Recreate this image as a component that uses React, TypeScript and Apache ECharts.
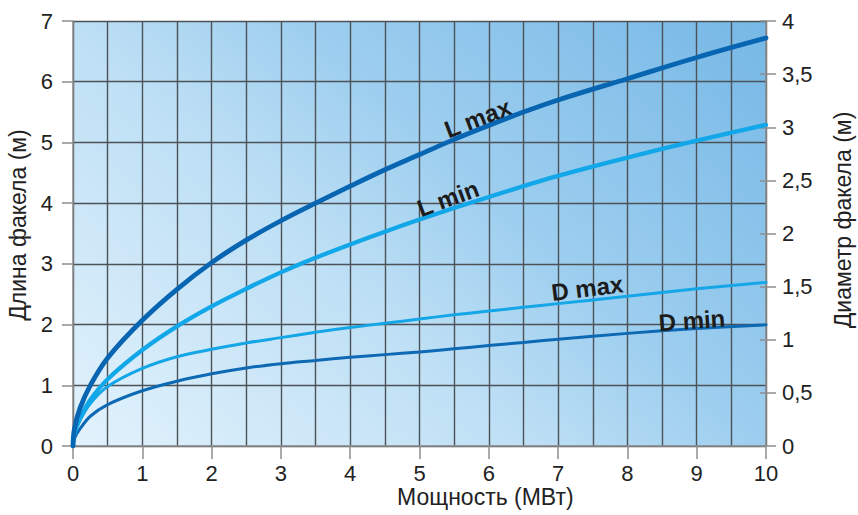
import React, { useEffect, useRef } from 'react';
import * as echarts from 'echarts';

// Power, MW (x axis)
const powerMW = [0, 0.02, 0.1, 0.25, 0.5, 1, 1.5, 2, 2.5, 3, 3.5, 4, 4.5, 5, 5.5, 6, 6.5, 7, 8, 9, 10];
// Flame length, m (left axis)
const lengthMax = [0, 0.28, 0.62, 1.0, 1.45, 2.07, 2.58, 3.02, 3.39, 3.71, 4.0, 4.28, 4.55, 4.8, 5.05, 5.28, 5.5, 5.7, 6.05, 6.4, 6.72];
const lengthMin = [0, 0.2, 0.45, 0.76, 1.1, 1.58, 1.97, 2.3, 2.59, 2.86, 3.1, 3.32, 3.53, 3.73, 3.92, 4.1, 4.28, 4.45, 4.75, 5.03, 5.29];
// Flame diameter, m (right axis)
const diameterMax = [0, 0.11, 0.24, 0.4, 0.56, 0.73, 0.84, 0.91, 0.97, 1.02, 1.07, 1.115, 1.155, 1.195, 1.235, 1.27, 1.305, 1.34, 1.41, 1.48, 1.54];
const diameterMin = [0, 0.07, 0.16, 0.28, 0.39, 0.52, 0.61, 0.68, 0.735, 0.775, 0.805, 0.835, 0.86, 0.885, 0.915, 0.945, 0.975, 1.005, 1.06, 1.105, 1.14];

const xTitle = 'Мощность (МВт)';
const leftTitle = 'Длина факела (м)';
const rightTitle = 'Диаметр факела (м)';

const FONT = '"Liberation Sans", Arial, Helvetica, sans-serif';
const GRID_LINE = { color: '#4d5257', width: 1.4 };
const AXIS_GRAY = { color: '#8e8e8e', width: 1.5 };
const TICK_FONT = 22;
const TITLE_FONT = 23;

const pairs = (ys: number[]) => powerMW.map((x, i) => [x, ys[i]]);

export default function App() {
  const ref = useRef<HTMLDivElement>(null);
  useEffect(() => {
    if (!ref.current) return;
    const chart = echarts.init(ref.current, undefined, { renderer: 'svg' });
    const bg = new echarts.graphic.LinearGradient(0, 1, 1.154, 0.231, [
      { offset: 0, color: '#e2f2fc' },
      { offset: 0.4, color: '#bddff5' },
      { offset: 0.6, color: '#9dceef' },
      { offset: 1, color: '#76b8e6' },
    ]);
    const lineSeries = (name: string, ys: number[], color: string, width: number, yAxisIndex: number) => ({
      name,
      type: 'line',
      yAxisIndex,
      data: pairs(ys),
      smooth: 0.35,
      showSymbol: false,
      symbol: 'none',
      lineStyle: { color, width, cap: 'round' },
      z: 5,
    });
    chart.setOption({
      animation: false,
      grid: {
        left: 73, right: 92, top: 21, bottom: 69,
        show: true, borderWidth: 0, backgroundColor: bg,
      },
      xAxis: {
        type: 'value', min: 0, max: 10, interval: 1,
        axisLine: { show: true, lineStyle: AXIS_GRAY },
        axisTick: { show: true, length: 13, lineStyle: AXIS_GRAY },
        axisLabel: { fontSize: TICK_FONT, color: '#222', margin: 16, fontFamily: FONT },
        splitLine: { show: true, lineStyle: GRID_LINE },
        minorTick: { show: false, splitNumber: 2 },
        minorSplitLine: { show: true, lineStyle: GRID_LINE },
      },
      yAxis: [
        {
          type: 'value', min: 0, max: 7, interval: 1, position: 'left',
          axisLine: { show: true, lineStyle: AXIS_GRAY },
          axisTick: { show: true, length: 11, lineStyle: AXIS_GRAY },
          axisLabel: { fontSize: TICK_FONT, color: '#222', margin: 20, fontFamily: FONT },
          splitLine: { show: true, lineStyle: GRID_LINE },
        },
        {
          type: 'value', min: 0, max: 4, interval: 0.5, position: 'right',
          axisLine: { show: true, lineStyle: AXIS_GRAY },
          axisTick: { show: true, length: 10, lineStyle: AXIS_GRAY },
          axisLabel: {
            fontSize: TICK_FONT, color: '#222', margin: 16, fontFamily: FONT,
            formatter: (v: number) => String(v).replace('.', ','),
          },
          splitLine: { show: false },
        },
        {
          type: 'value', min: 0, max: 4, interval: 0.5, position: 'right',
          axisLine: { show: false },
          axisTick: { show: true, inside: true, length: 6, lineStyle: AXIS_GRAY },
          axisLabel: { show: false },
          splitLine: { show: false },
        },
      ],
      series: [
        lineSeries('D min', diameterMin, '#0d69b4', 3, 1),
        lineSeries('D max', diameterMax, '#14a6e6', 3, 1),
        lineSeries('L min', lengthMin, '#12a7e8', 4.3, 0),
        lineSeries('L max', lengthMax, '#0765b1', 4.8, 0),
      ],
    });

    const px = (x: number, y: number) => chart.convertToPixel({ xAxisIndex: 0, yAxisIndex: 0 }, [x, y]) as number[];
    const curveLabel = (text: string, at: number[], deg: number) => {
      const p = px(at[0], at[1]);
      return {
        type: 'text', x: p[0], y: p[1], rotation: (deg * Math.PI) / 180, z: 20,
        style: {
          text, fontSize: 24, fontWeight: 'bold', fill: '#1c1c1c', fontFamily: FONT,
          align: 'center', verticalAlign: 'middle',
        },
      };
    };
    chart.setOption({
      graphic: [
        curveLabel('L max', [5.84, 5.4], 21),
        curveLabel('L min', [5.41, 4.08], 20),
        curveLabel('D max', [7.42, 2.6], 7),
        curveLabel('D min', [8.93, 2.07], 4),
        {
          type: 'text', x: 397, y: 497, z: 20,
          style: { text: xTitle, fontSize: TITLE_FONT, fill: '#222', fontFamily: FONT, align: 'left', verticalAlign: 'middle' },
        },
        {
          type: 'text', x: 18, y: 225, rotation: Math.PI / 2, z: 20,
          style: { text: leftTitle, fontSize: TITLE_FONT, fill: '#222', fontFamily: FONT, align: 'center', verticalAlign: 'middle' },
        },
        {
          type: 'text', x: 843, y: 220, rotation: Math.PI / 2, z: 20,
          style: { text: rightTitle, fontSize: TITLE_FONT, fill: '#222', fontFamily: FONT, align: 'center', verticalAlign: 'middle' },
        },
      ],
    });
    return () => chart.dispose();
  }, []);
  return (
    <div
      ref={ref}
      style={{ position: 'fixed', left: 0, top: 0, width: 858, height: 515, background: '#ffffff' }}
    />
  );
}
